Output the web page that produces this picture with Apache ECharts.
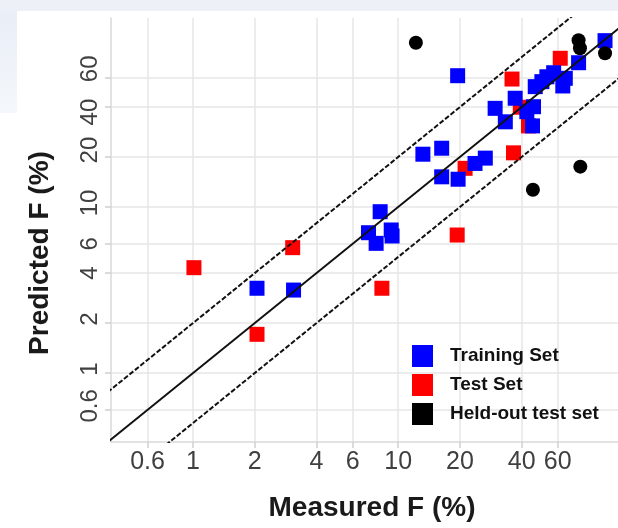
<!DOCTYPE html>
<html>
<head>
<meta charset="utf-8">
<script src="https://cdn.jsdelivr.net/npm/echarts@6/dist/echarts.min.js"></script>
<style>
  html, body { margin: 0; padding: 0; background: #ffffff; }
  #wrap { position: relative; width: 618px; height: 528px; overflow: hidden; }
  #topband { position: absolute; left: 0; top: 0; width: 618px; height: 11px; background: #edf1f7; }
  #sideband { position: absolute; left: 0; top: 11px; width: 17px; height: 102px;
              background: linear-gradient(to bottom, #e9eef7, #f4f7fb); }
  #chart { position: absolute; left: 0; top: 0; width: 618px; height: 528px; }
</style>
</head>
<body>
<div id="wrap">
  <div id="topband"></div>
  <div id="sideband"></div>
  <div id="chart"></div>
</div>
<script>
// Tick values shared by both log axes
const tickValues = [0.6, 1, 2, 4, 6, 10, 20, 40, 60];

// [measured, predicted] in percent
const trainingSet = [
  [2.05, 3.24], [3.09, 3.16], [8.17, 9.37], [7.17, 7.0], [7.81, 6.04],
  [9.25, 7.27], [9.34, 6.69], [13.2, 20.8], [16.3, 22.6], [16.3, 15.2],
  [19.6, 14.7], [23.7, 18.3], [26.6, 19.7], [19.5, 61.8], [29.7, 39.3],
  [33.3, 32.6], [37.2, 45.2], [42.4, 37.5], [45.7, 40.2], [45.2, 30.8],
  [46.6, 53.1], [50.2, 56.9], [53.1, 60.9], [57.3, 64.4], [63.5, 53.6],
  [65.3, 59.6], [75.8, 74.0], [102, 100.5]
];
const testSet = [
  [1.01, 4.31], [3.06, 5.69], [2.05, 1.71], [8.33, 3.24], [19.4, 6.78],
  [21.2, 17.1], [35.9, 59.0], [61.7, 78.7], [39.4, 39.9], [43.2, 30.8],
  [36.5, 21.2]
];
const heldOutSet = [
  [12.2, 97.7], [75.8, 101], [77, 90.4], [102, 84.3], [77.3, 17.5], [45.4, 12.7]
];

// Reference lines: y = x and the two-fold band y = 2x, y = x/2
const identityLine = [[0.2, 0.2], [300, 300]];
const upperFoldLine = [[0.1, 0.2], [150, 300]];
const lowerFoldLine = [[0.4, 0.2], [600, 300]];

const chart = echarts.init(document.getElementById('chart'), null, { renderer: 'canvas' });

const labelFont = {
  color: '#404040',
  fontFamily: 'Liberation Sans, Arial, sans-serif',
  fontSize: 25
};

// Vertical y labels are nudged along the axis so the crowded ones don't collide
function yLabelStyle(pad) {
  return Object.assign({ padding: pad }, labelFont, { fontSize: 24 });
}
const yRich = {
  up9: yLabelStyle([0, 0, 0, 18]),
  up7: yLabelStyle([0, 0, 0, 14]),
  up4: yLabelStyle([0, 0, 0, 8]),
  dn5: yLabelStyle([0, 10, 0, 0]),
  mid: yLabelStyle([0, 0, 0, 0])
};
function yLabel(v) {
  const s = String(+Number(v).toPrecision(6));
  let key = 'up4';
  if (s === '60') key = 'up9';
  else if (s === '40') key = 'dn5';
  else if (s === '20') key = 'up7';
  else if (s === '6' || s === '4') key = 'mid';
  return '{' + key + '|' + s + '}';
}

function logAxis(min, max, isY) {
  return {
    type: 'log',
    logBase: 10,
    min: min,
    max: max,
    axisLine: { show: true, onZero: false, lineStyle: { color: '#d9d9d9', width: 1.5 } },
    axisTick: { show: true, inside: false, length: 6, customValues: tickValues,
                lineStyle: { color: '#d0d0d0', width: 1.5 } },
    axisLabel: Object.assign({
      customValues: tickValues,
      margin: isY ? 9 : 8,
      rotate: isY ? 90 : 0,
      formatter: isY ? yLabel : (v => String(+Number(v).toPrecision(6))),
      rich: isY ? yRich : undefined
    }, labelFont),
    splitLine: { show: true, lineStyle: { color: '#e6e6e6', width: 1.5 } },
    minorTick: { show: false },
    minorSplitLine: { show: false }
  };
}

const option = {
  backgroundColor: 'transparent',
  animation: false,
  grid: { left: 111, top: 18, right: 0, bottom: 86, containLabel: false },
  xAxis: logAxis(0.398, 118, false),
  yAxis: logAxis(0.384, 137.6, true),
  legend: {
    orient: 'vertical',
    left: 412,
    top: 345,
    padding: 0,
    itemWidth: 21,
    itemHeight: 22,
    itemGap: 7,
    icon: 'rect',
    data: ['Training Set', 'Test Set', 'Held-out test set'],
    itemStyle: { opacity: 1 },
    textStyle: {
      color: '#111111',
      fontWeight: 'bold',
      fontFamily: 'Liberation Sans, Arial, sans-serif',
      fontSize: 19,
      padding: [0, 0, 0, 12]
    }
  },
  graphic: [
    {
      type: 'text',
      x: 372, y: 508,
      style: {
        text: 'Measured F (%)',
        fill: '#1a1a1a',
        font: 'bold 28px "Liberation Sans", Arial, sans-serif',
        textAlign: 'center',
        textVerticalAlign: 'middle'
      }
    },
    {
      type: 'text',
      x: 40, y: 253,
      rotation: Math.PI / 2,
      style: {
        text: 'Predicted F (%)',
        fill: '#1a1a1a',
        font: 'bold 28px "Liberation Sans", Arial, sans-serif',
        textAlign: 'center',
        textVerticalAlign: 'middle'
      }
    }
  ],
  series: [
    {
      name: 'Test Set', type: 'scatter', symbol: 'rect', symbolSize: 15,
      itemStyle: { color: '#ff0000', opacity: 1 }, data: testSet, z: 2
    },
    {
      name: 'Training Set', type: 'scatter', symbol: 'rect', symbolSize: 15,
      itemStyle: { color: '#0000ff', opacity: 1 }, data: trainingSet, z: 3
    },
    {
      name: 'Held-out test set', type: 'scatter', symbol: 'circle', symbolSize: 14,
      itemStyle: { color: '#000000', opacity: 1 }, data: heldOutSet, z: 4
    },
    {
      type: 'line', data: identityLine, symbol: 'none', clip: true, silent: true, z: 5,
      lineStyle: { color: '#111111', width: 2 }
    },
    {
      type: 'line', data: upperFoldLine, symbol: 'none', clip: true, silent: true, z: 5,
      lineStyle: { color: '#111111', width: 2, type: [5, 2] }
    },
    {
      type: 'line', data: lowerFoldLine, symbol: 'none', clip: true, silent: true, z: 5,
      lineStyle: { color: '#111111', width: 2, type: [5, 2] }
    }
  ]
};

chart.setOption(option);
</script>
</body>
</html>
